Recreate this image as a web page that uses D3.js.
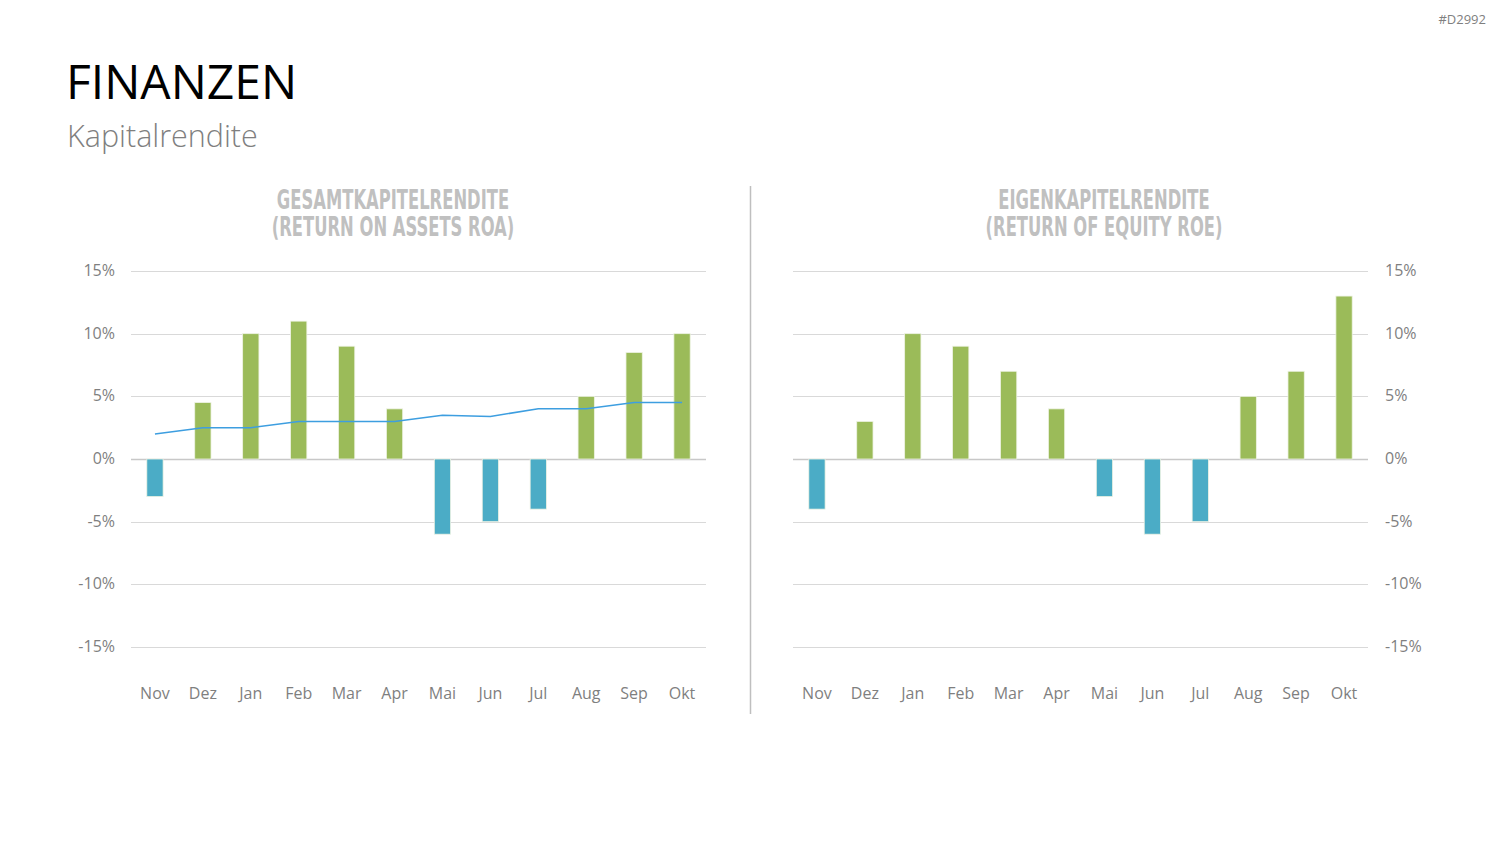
<!DOCTYPE html>
<html>
<head>
<meta charset="utf-8">
<script src="https://cdn.jsdelivr.net/npm/d3@7"></script>
<style>
  body { margin: 0; background: #fff; }
  svg { display: block; }
</style>
</head>
<body>
<div id="chart"></div>
<script>
const months = ['Nov', 'Dez', 'Jan', 'Feb', 'Mar', 'Apr', 'Mai', 'Jun', 'Jul', 'Aug', 'Sep', 'Okt'];
const roaValues = [-3, 4.5, 10, 11, 9, 4, -6, -5, -4, 5, 8.5, 10];
const roaTrend = [2, 2.5, 2.5, 3, 3, 3, 3.5, 3.4, 4, 4, 4.5, 4.5];
const roeValues = [-4, 3, 10, 9, 7, 4, -3, -6, -5, 5, 7, 13];
const yTicks = [-15, -10, -5, 0, 5, 10, 15];

const posColor = '#9bbb59',
      negColor = '#4bacc6',
      lineColor = '#3d9ee0',
      gridColor = '#d9d9d9',
      labelColor = '#7f7f7f';

const width = 1500, height = 844;

const svg = d3.select('#chart').append('svg')
  .attr('width', width)
  .attr('height', height);

// header
svg.append('text')
  .attr('x', 1486).attr('y', 24)
  .attr('text-anchor', 'end')
  .style('font-family', 'Open Sans, sans-serif')
  .style('font-size', '13px')
  .style('fill', labelColor)
  .text('#D2992');

svg.append('text')
  .attr('x', 66).attr('y', 99)
  .style('font-family', 'Open Sans, sans-serif')
  .style('font-size', '48px')
  .style('fill', '#000')
  .text('FINANZEN');

svg.append('text')
  .attr('x', 67).attr('y', 147)
  .style('font-family', 'Open Sans, sans-serif')
  .style('font-weight', 300)
  .style('font-size', '30.5px')
  .style('fill', labelColor)
  .text('Kapitalrendite');

// divider between the two charts
svg.append('line')
  .attr('x1', 750.5).attr('x2', 750.5)
  .attr('y1', 186).attr('y2', 714)
  .style('stroke', '#bfbfbf')
  .style('stroke-width', 1.5);

const y = d3.scaleLinear().domain([-15, 15]).range([647, 271]);

function drawPanel(opts){
  const x = d3.scaleBand()
    .domain(months)
    .range([opts.x0, opts.x1])
    .paddingInner(0.66)
    .paddingOuter(0.33);

  const g = svg.append('g');

  // title (two lines, condensed caps)
  opts.title.forEach((t, i) => {
    g.append('text')
      .attr('text-anchor', 'middle')
      .attr('transform', `translate(${opts.titleX},${209 + i * 27}) scale(0.70,1)`)
      .style('font-family', '"Liberation Sans Narrow", "DejaVu Sans Condensed", sans-serif')
      .style('font-weight', 'bold')
      .style('font-size', '26px')
      .style('fill', '#c0c0c0')
      .text(t);
  });

  // gridlines
  g.append('g')
    .selectAll('line')
    .data(yTicks)
    .enter()
      .append('line')
      .attr('x1', opts.x0).attr('x2', opts.x1)
      .attr('y1', d => Math.round(y(d)) + 0.5)
      .attr('y2', d => Math.round(y(d)) + 0.5)
      .style('stroke', d => d === 0 ? '#c8c8c8' : gridColor)
      .style('stroke-width', d => d === 0 ? 1.5 : 1);

  // y tick labels
  g.append('g')
    .selectAll('text')
    .data(yTicks)
    .enter()
      .append('text')
      .attr('x', opts.labelX)
      .attr('y', d => y(d) + 5)
      .attr('text-anchor', opts.labelAnchor)
      .style('font-family', 'Open Sans, sans-serif')
      .style('font-size', '16px')
      .style('fill', labelColor)
      .text(d => d + '%');

  // bars
  g.append('g')
    .selectAll('rect')
    .data(opts.values)
    .enter()
      .append('rect')
      .attr('x', (d, i) => x(months[i]))
      .attr('width', x.bandwidth())
      .attr('y', d => y(Math.max(0, d)))
      .attr('height', d => Math.abs(y(d) - y(0)))
      .style('fill', d => d >= 0 ? posColor : negColor)
      .style('stroke', '#eef3e4')
      .style('stroke-width', 0.8);

  // trend line
  if (opts.trend){
    const line = d3.line()
      .x((d, i) => x(months[i]) + x.bandwidth() / 2)
      .y(d => y(d));
    g.append('path')
      .datum(opts.trend)
      .attr('d', line)
      .style('fill', 'none')
      .style('stroke', lineColor)
      .style('stroke-width', 1.5);
  }

  // month labels
  g.append('g')
    .selectAll('text')
    .data(months)
    .enter()
      .append('text')
      .attr('x', d => x(d) + x.bandwidth() / 2)
      .attr('y', 699)
      .attr('text-anchor', 'middle')
      .style('font-family', 'Open Sans, sans-serif')
      .style('font-size', '16px')
      .style('fill', labelColor)
      .text(d => d);
}

drawPanel({
  x0: 131, x1: 706,
  titleX: 393,
  title: ['GESAMTKAPITELRENDITE', '(RETURN ON ASSETS ROA)'],
  labelX: 115, labelAnchor: 'end',
  values: roaValues,
  trend: roaTrend
});

drawPanel({
  x0: 793, x1: 1368,
  titleX: 1104,
  title: ['EIGENKAPITELRENDITE', '(RETURN OF EQUITY ROE)'],
  labelX: 1385, labelAnchor: 'start',
  values: roeValues
});
</script>
</body>
</html>
